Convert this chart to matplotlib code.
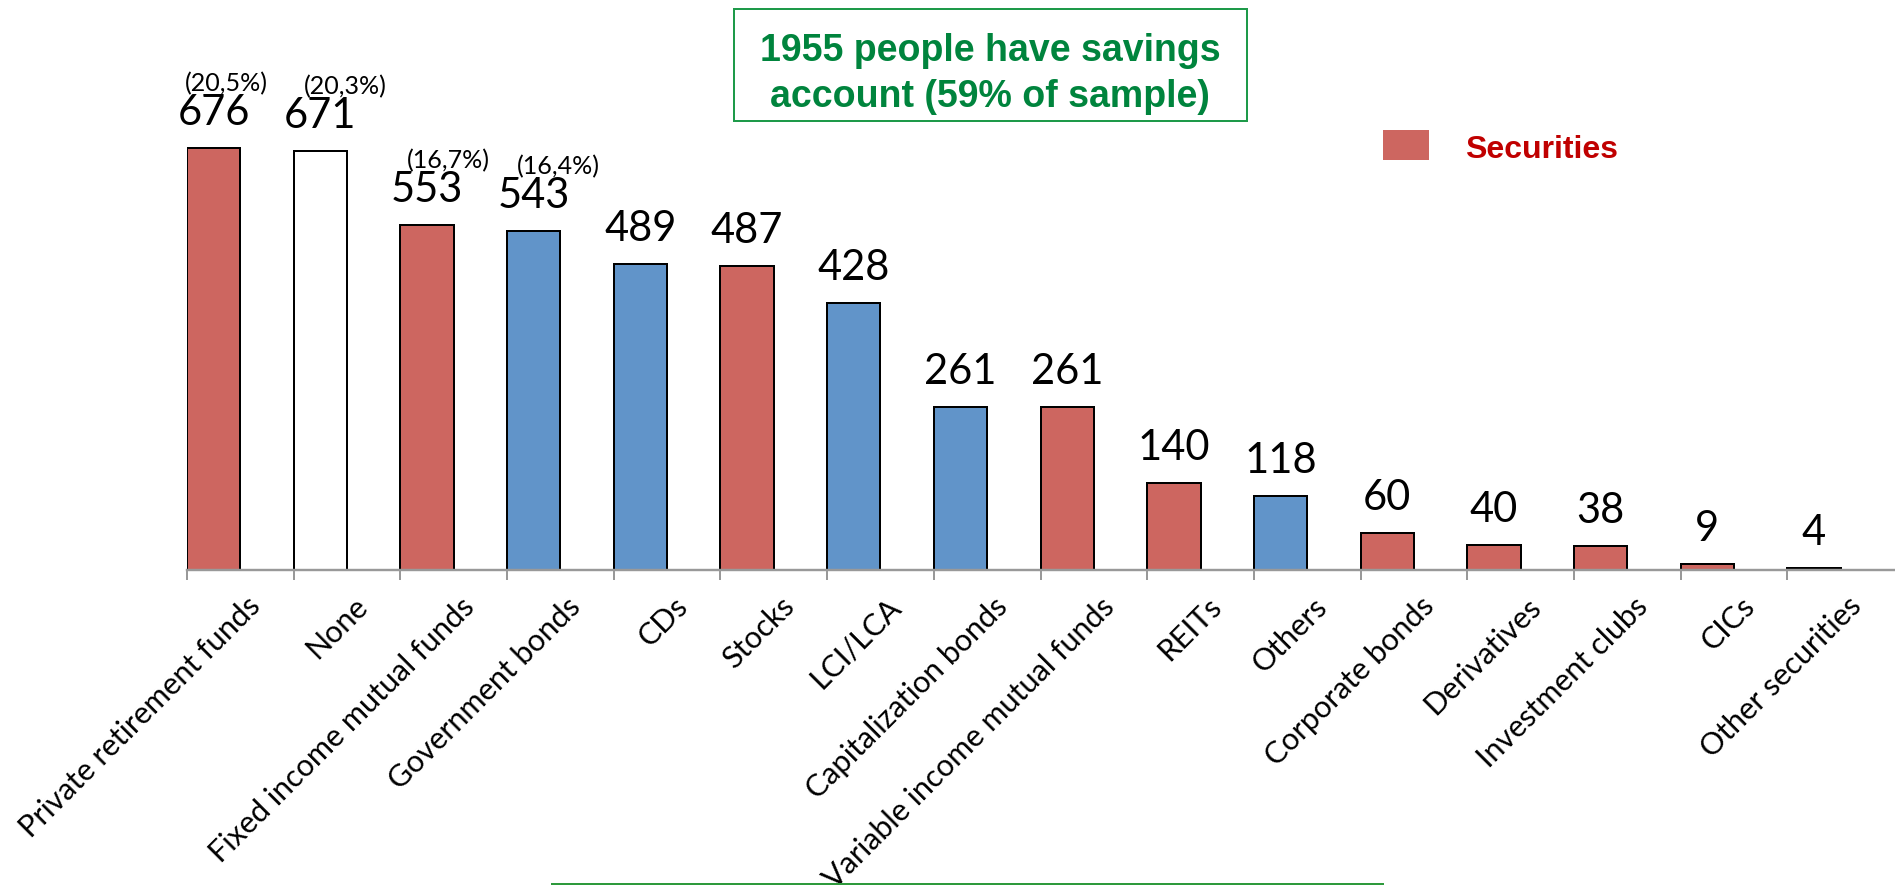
import matplotlib
matplotlib.use("Agg")
import matplotlib.pyplot as plt
from matplotlib.patches import Rectangle
from matplotlib.lines import Line2D

categories = ["Private retirement funds", "None", "Fixed income mutual funds",
              "Government bonds", "CDs", "Stocks", "LCI/LCA", "Capitalization bonds",
              "Variable income mutual funds", "REITs", "Others", "Corporate bonds",
              "Derivatives", "Investment clubs", "CICs", "Other securities"]
values = [676, 671, 553, 543, 489, 487, 428, 261, 261, 140, 118, 60, 40, 38, 9, 4]
groups = ["sec", "none", "sec", "other", "other", "sec", "other", "other",
          "sec", "sec", "other", "sec", "sec", "sec", "sec", "sec"]
pct_labels = ["(20,5%)", "(20,3%)", "(16,7%)", "(16,4%)"]
title_lines = ["1955 people have savings", "account (59% of sample)"]
legend_label = "Securities"

RED = "#CD6660"
BLUE = "#6194C9"
GREEN = "#00843D"
color_map = {"sec": RED, "other": BLUE, "none": "white"}

W, H, DPI = 1895, 887, 100
fig = plt.figure(figsize=(W / DPI, H / DPI), dpi=DPI)
PT = 72 / DPI  # points per pixel

def fx(px):
    return px / W

def fy(py):
    return 1 - py / H

axis_y = 571
ax = fig.add_axes([fx(187), (H - axis_y) / H, (1894 - 187) / W, 499.8 / H])
ax.set_xlim(0, 16)
ax.set_ylim(0, 800)

xs = list(range(len(categories)))
ax.bar(xs, values, width=0.5, align="edge",
       color=[color_map[g] for g in groups], edgecolor="black", linewidth=2 * PT,
       zorder=3)

for s in ["top", "left", "right"]:
    ax.spines[s].set_visible(False)
ax.spines["bottom"].set_color("#999999")
ax.spines["bottom"].set_linewidth(2.4 * PT)
ax.spines["bottom"].set_zorder(4)
ax.set_yticks([])
ax.set_xticks(xs)
ax.set_xticklabels([])
ax.tick_params(axis="x", length=10 * PT, width=2 * PT, color="#999999", direction="out")

# value labels
for i, v in enumerate(values):
    ax.annotate(str(v), xy=(i + 0.25, v), xytext=(0, 24 * PT), textcoords="offset points",
                ha="center", va="baseline", fontsize=30, family="Lato", color="black")

# percentage labels
pct_dx = [13, 25, 21, 25]
for i, lab in enumerate(pct_labels):
    ax.annotate(lab, xy=(i + 0.25, values[i]), xytext=(pct_dx[i] * PT, 57 * PT),
                textcoords="offset points", ha="center", va="baseline",
                fontsize=18, family="Lato", color="black")

# category labels
for i, lab in enumerate(categories):
    ax.annotate(lab, xy=(i + 0.5, 0), xycoords=("data", "axes fraction"),
                xytext=(6 * PT, -21 * PT), textcoords="offset points",
                ha="right", va="top", rotation=45, rotation_mode="anchor",
                fontsize=22, family="Lato", color="black", annotation_clip=False)

# title box
fig.patches.append(Rectangle((fx(734), fy(122)), fx(1247 - 734), (122 - 10) / H,
                             transform=fig.transFigure, fill=False,
                             edgecolor="#1E9A4A", linewidth=2 * PT))
fig.text(fx(990), fy(61), title_lines[0], ha="center", va="baseline",
         fontsize=27, fontweight="bold", family="Liberation Sans", color=GREEN)
fig.text(fx(990), fy(107), title_lines[1], ha="center", va="baseline",
         fontsize=27, fontweight="bold", family="Liberation Sans", color=GREEN)

# legend
fig.patches.append(Rectangle((fx(1383), fy(161)), fx(46), 30 / H,
                             transform=fig.transFigure, facecolor=RED, edgecolor="none"))
fig.text(fx(1465), fy(158), legend_label, ha="left", va="baseline",
         fontsize=23, fontweight="bold", family="Liberation Sans", color="#C00000")

# bottom green line
fig.lines.append(Line2D([fx(552), fx(1383)], [fy(885), fy(885)],
                        transform=fig.transFigure, color="#2E9A3C", linewidth=2 * PT))

fig.savefig("out.png", dpi=DPI)
